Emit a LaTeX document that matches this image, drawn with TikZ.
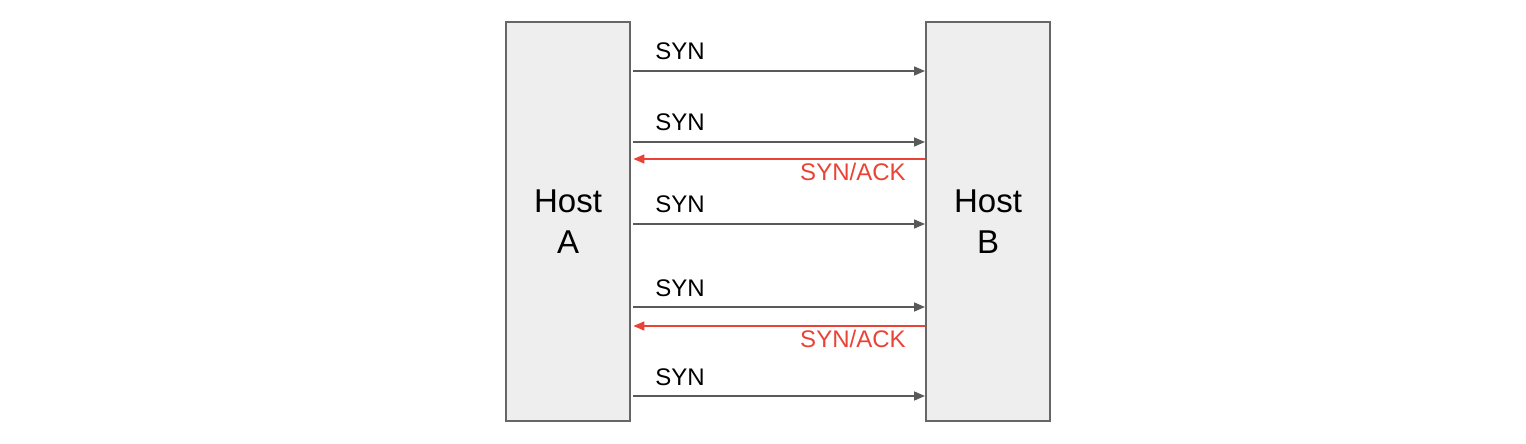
\documentclass[tikz,border=0pt]{standalone}
\usepackage{fontspec}
\setmainfont{Liberation Sans}
\usetikzlibrary{arrows.meta}
\definecolor{hostfill}{HTML}{EEEEEE}
\definecolor{hostline}{HTML}{666666}
\definecolor{msggray}{HTML}{595959}
\definecolor{msgred}{HTML}{EA4335}
\tikzset{
  host/.style={draw=hostline, fill=hostfill, line width=1pt, inner sep=0pt,
    minimum width=62pt, minimum height=199.5pt, align=center,
    font=\fontsize{16.5}{20.5}\selectfont},
  syn/.style={draw=msggray, line width=0.8pt, shorten <=1.2pt,
    -{Triangle[length=5.5pt,width=4.5pt]}},
  synack/.style={draw=msgred, line width=0.8pt, shorten >=1.2pt,
    -{Triangle[length=5.5pt,width=4.5pt]}},
  lbl/.style={font=\fontsize{12}{14}\selectfont, inner sep=0pt}
}
\begin{document}
\begin{tikzpicture}[x=0.5pt,y=-0.5pt]
  \useasboundingbox (0,0) rectangle (1526,444);
  \node[host] (hostA) at (568,221.5) {Host\\A};
  \node[host] (hostB) at (988,221.5) {Host\\B};
  % SYN messages
  \foreach \y/\i in {71/1,142/2,224/3,307/4,396/5} {
    \coordinate (s\i) at (0,\y);
    \draw[syn] (hostA.east |- s\i) -- (hostB.west |- s\i);
    \node[lbl, anchor=base west] (syn\i) at (655,\y-11) {SYN};
  }
  % SYN/ACK replies
  \foreach \y/\i in {159/1,326/2} {
    \coordinate (r\i) at (0,\y);
    \draw[synack] (hostB.west |- r\i) -- (hostA.east |- r\i);
    \node[lbl, anchor=base east, text=msgred] (ack\i) at (906,\y+21) {SYN/ACK};
  }
\end{tikzpicture}
\end{document}
